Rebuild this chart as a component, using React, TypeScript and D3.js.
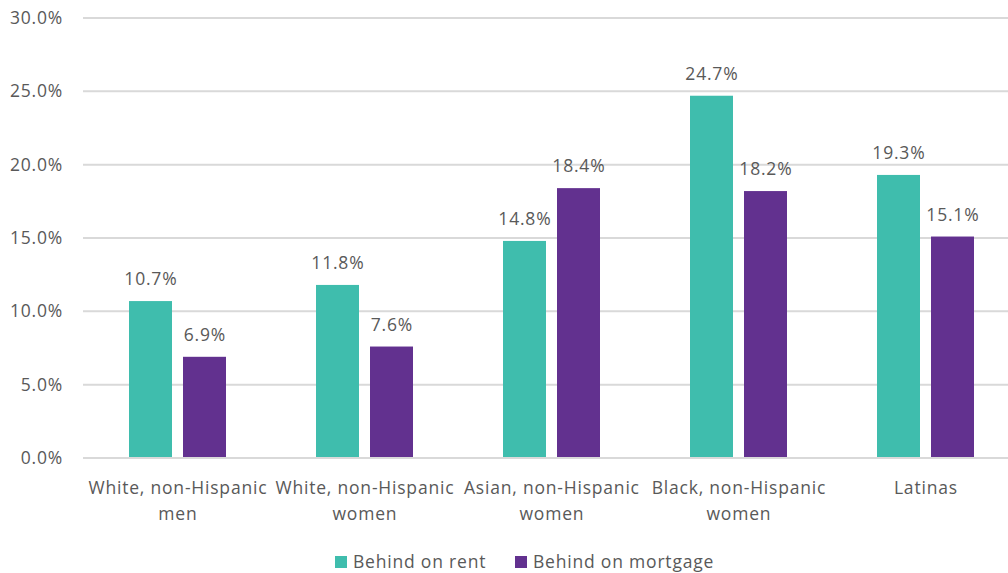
import React from "react";
import * as d3 from "d3";

const categories: string[][] = [
  ["White, non-Hispanic", "men"],
  ["White, non-Hispanic", "women"],
  ["Asian, non-Hispanic", "women"],
  ["Black, non-Hispanic", "women"],
  ["Latinas"],
];
const seriesNames = ["Behind on rent", "Behind on mortgage"];
const rentValues = [10.7, 11.8, 14.8, 24.7, 19.3];
const mortgageValues = [6.9, 7.6, 18.4, 18.2, 15.1];
const yTicks = [0, 5, 10, 15, 20, 25, 30];
const colors = ["#3FBDAD", "#62318F"];

const W = 1008;
const H = 573;
const FONT = "'Open Sans', sans-serif";
const TXT = "#595959";
const FS = 17.5;
const LS = 0.8;

export default function App() {
  const plotLeft = 84;
  const plotRight = 1019;
  const y = d3.scaleLinear().domain([0, 30]).range([458, 18]);
  const x0 = d3
    .scaleBand<number>()
    .domain(categories.map((_, i) => i))
    .range([plotLeft, plotRight])
    .paddingInner(0)
    .paddingOuter(0);
  const bw = 43;
  const gap = 11;
  const series = [rentValues, mortgageValues];

  return (
    <svg
      width={W}
      height={H}
      style={{ position: "absolute", left: 0, top: 0, background: "#fff" }}
      fontFamily={FONT}
      letterSpacing={LS}
    >
      {yTicks.map((t) => (
        <g key={t}>
          <line x1={83} x2={W} y1={y(t)} y2={y(t)} stroke="#D9D9D9" strokeWidth={2} />
          <text
            x={63}
            y={y(t)}
            dy="0.35em"
            textAnchor="end"
            fontSize={FS}
            fill={TXT}
          >
            {t.toFixed(1) + "%"}
          </text>
        </g>
      ))}
      {categories.map((cat, i) => {
        const cx = (x0(i) as number) + x0.bandwidth() / 2;
        return (
          <g key={i}>
            {series.map((vals, s) => {
              const bx = s === 0 ? cx - gap / 2 - bw : cx + gap / 2;
              const v = vals[i];
              return (
                <g key={s}>
                  <rect
                    x={bx}
                    y={y(v)}
                    width={bw}
                    height={y(0) - y(v)}
                    fill={colors[s]}
                  />
                  <text
                    x={bx + bw / 2 + LS / 2}
                    y={y(v) - 22}
                    dy="0.35em"
                    textAnchor="middle"
                    fontSize={FS}
                    fill={TXT}
                  >
                    {v.toFixed(1) + "%"}
                  </text>
                </g>
              );
            })}
            {cat.map((line, li) => (
              <text
                key={li}
                x={cx + LS / 2}
                y={488 + li * 26}
                dy="0.35em"
                textAnchor="middle"
                fontSize={FS}
                fill={TXT}
              >
                {line}
              </text>
            ))}
          </g>
        );
      })}
      <line x1={83} x2={W} y1={y(0)} y2={y(0)} stroke="#D9D9D9" strokeWidth={2} />
      {seriesNames.map((name, s) => {
        const lx = s === 0 ? 335 : 515;
        return (
          <g key={name}>
            <rect x={lx} y={556} width={12} height={12} fill={colors[s]} />
            <text x={lx + 18} y={562} dy="0.35em" fontSize={FS} fill={TXT}>
              {name}
            </text>
          </g>
        );
      })}
    </svg>
  );
}
